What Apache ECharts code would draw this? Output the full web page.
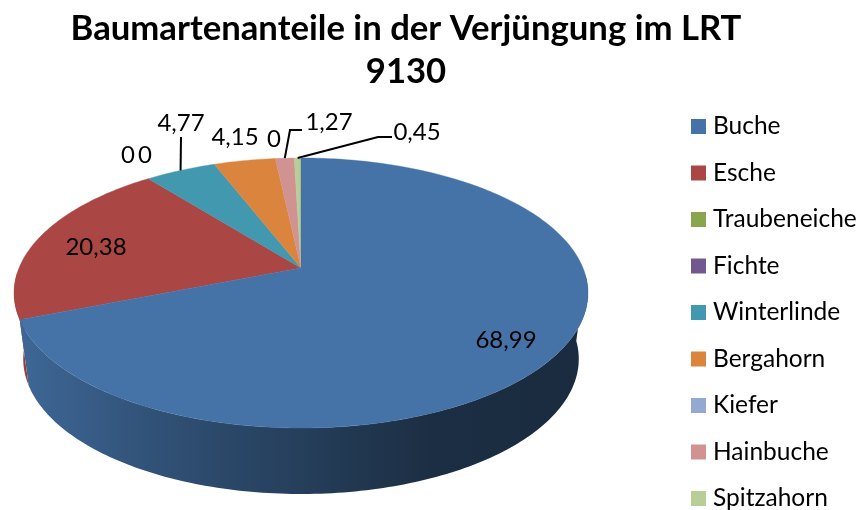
<!DOCTYPE html>
<html><head><meta charset="utf-8">
<style>html,body{margin:0;padding:0;background:#fff}#c{width:861px;height:510px}</style>
<script src="https://cdn.jsdelivr.net/npm/echarts@6/dist/echarts.min.js"></script>
</head><body><div id="c"></div>
<script>
const titleLines = ['Baumartenanteile in der Verjüngung im LRT', '9130'];
const categories = ['Buche','Esche','Traubeneiche','Fichte','Winterlinde','Bergahorn','Kiefer','Hainbuche','Spitzahorn'];
const values = [68.99,20.38,0,0,4.77,4.15,0,1.27,0.45];
const valueLabels = ['68,99','20,38','0','0','4,77','4,15','0','1,27','0,45'];
const colors = ['#4572A7','#AA4643','#89A54E','#71588F','#4198AF','#DB843D','#93A9CF','#D19392','#B9CD96'];

// layout only: label centres and leader-line elbows
const labelPos = [[506,340],[96,247],[128,155],[145,155],[181,123],[235,137],[274,139],[329,122],[417,132]];
const leaders = [null,null,null,null,[[181,137]],null,null,[[290,130],[302,130]],[[378,137],[392,137]]];

// perspective disc geometry
const G = {cx:301, cy:268, a:282, b:130.4, k:0.185, depth:66, shrink:0.968, wallFrom:93, wallTo:268};
function rim(deg){
  const t = deg*Math.PI/180, x = Math.sin(t), y = -Math.cos(t), w = 1 - G.k*y;
  return [G.cx + G.a*x/w, G.cy + G.b*y/w];
}
function rimLow(deg){
  const p = rim(deg);
  return [G.cx + (p[0]-G.cx)*G.shrink, p[1] + G.depth];
}
function arc(fn, from, to){
  const n = Math.max(2, Math.ceil(Math.abs(to-from))), out = [];
  for (let i=0;i<=n;i++) out.push(fn(from+(to-from)*i/n));
  return out;
}
function shade(hex, m){
  const n = parseInt(hex.slice(1),16);
  const c = [n>>16,(n>>8)&255,n&255].map(v=>Math.round(v*m));
  return 'rgb('+c.join(',')+')';
}
const total = values.reduce((s,v)=>s+v,0);
const starts = []; values.reduce((s,v,i)=>{starts[i]=s; return s+v;},0);

function renderSlice(i){
  return function(){
    const from = starts[i]/total*360, to = (starts[i]+values[i])/total*360, kids = [];
    const col = colors[i];
    const lo = Math.max(from,G.wallFrom), hi = Math.min(to,G.wallTo);
    if (values[i]>0 && hi>lo){
      const pts = arc(rim,lo,hi).concat(arc(rimLow,hi,lo));
      const fill = {type:'linear',x:20,y:0,x2:590,y2:0,global:true,colorStops:[
        {offset:0,color:shade(col,0.9)},{offset:0.25,color:shade(col,0.7)},
        {offset:0.5,color:shade(col,0.54)},{offset:0.72,color:shade(col,0.4)},{offset:1,color:shade(col,0.38)}]};
      kids.push({type:'polygon',shape:{points:pts},style:{fill:fill}});
    }
    if (values[i]>0){
      const pts = [[G.cx,G.cy]].concat(arc(rim,from,to));
      kids.push({type:'polygon',shape:{points:pts},style:{fill:col,stroke:col,lineWidth:0.4}});
    }
    if (leaders[i]){
      const mid = (from+to)/2;
      kids.push({type:'polyline',shape:{points:[rim(mid)].concat(leaders[i])},style:{fill:'none',stroke:'#000',lineWidth:2}});
    }
    kids.push({type:'text',x:labelPos[i][0],y:labelPos[i][1],
      style:{text:valueLabels[i],fill:'#000',font:'24px Lato',textAlign:'center',textVerticalAlign:'middle'}});
    return {type:'group',children:kids};
  };
}

const chart = echarts.init(document.getElementById('c'),null,{renderer:'canvas'});
chart.setOption({
  animation:false,
  backgroundColor:'#fff',
  title:{text:titleLines.join('\n'),left:406,top:7,padding:0,textAlign:'center',
    textStyle:{fontFamily:'Lato',fontWeight:'bold',fontSize:34.7,lineHeight:43,color:'#000'}},
  legend:{orient:'vertical',left:691,top:114,height:600,padding:0,itemWidth:15,itemHeight:15,itemGap:21.5,icon:'rect',
    data:categories,textStyle:{fontFamily:'Lato',fontSize:24.5,lineHeight:24,color:'#000',padding:[0,0,0,2]}},
  series:categories.map((name,i)=>({
    type:'custom',name:name,coordinateSystem:'none',silent:true,
    z:i===0?5:2,
    itemStyle:{color:colors[i]},
    data:[[values[i]]],
    renderItem:renderSlice(i)
  }))
});
</script></body></html>
